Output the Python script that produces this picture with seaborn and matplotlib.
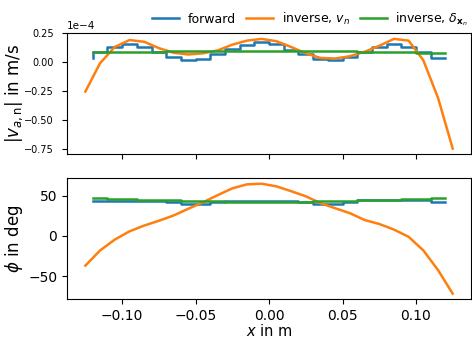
import numpy as np
import pandas as pd
import matplotlib
matplotlib.use("Agg")
import matplotlib.pyplot as plt
import seaborn as sns

# x positions
x_steps = [round(-0.12 + 0.01 * i, 3) for i in range(25)]      # step edges (forward / delta)
x_inv = [round(-0.125 + 0.01 * i, 3) for i in range(26)]       # inverse v_n samples

# top panel: |v_a,n| in m/s (values in units of 1e-4)
fwd_mag = [0.038, 0.088, 0.13, 0.153, 0.13, 0.088, 0.044, 0.02, 0.026, 0.065, 0.11, 0.15,
           0.17, 0.153, 0.10, 0.065, 0.026, 0.02, 0.044, 0.088, 0.13, 0.153, 0.13, 0.088, 0.038]
inv_mag = [-0.256, -0.01, 0.13, 0.19, 0.175, 0.12, 0.08, 0.065, 0.075, 0.10, 0.15, 0.185,
           0.20, 0.18, 0.13, 0.075, 0.035, 0.03, 0.05, 0.088, 0.14, 0.20, 0.185, 0.015,
           -0.31, -0.75]
dlt_mag = [0.085, 0.085, 0.087, 0.088, 0.089, 0.09, 0.091, 0.092, 0.093, 0.094, 0.095, 0.095,
           0.095, 0.095, 0.095, 0.094, 0.093, 0.092, 0.091, 0.09, 0.088, 0.086, 0.084, 0.08, 0.075]

# bottom panel: phi in deg
fwd_phi = [44, 44, 44, 44, 44, 44, 43, 40, 40, 43, 44, 44, 44, 44, 44,
           43, 40, 40, 43, 44.5, 44.5, 44.5, 44.5, 44.5, 42.5]
inv_phi = [-37, -18, -4.5, 5.8, 13, 19, 25.6, 34, 42, 51, 59.5, 64.5, 65.3,
           62, 56, 49.6, 41, 34.7, 28.5, 20, 15, 8, -1, -18, -42.5, -72]
dlt_phi = [47, 47, 46.5, 46, 45.5, 45, 44.5, 44, 43.5, 43.5, 43, 43, 43,
           43, 43, 43, 43.5, 43.5, 44, 44.5, 45, 45.5, 46, 46.5, 47.5]

labels = ["forward", "inverse, $v_n$", r"inverse, $\delta_{\mathbf{x}_n}$"]
colors = ["#1f77b4", "#ff7f0e", "#2ca02c"]

fig, (ax1, ax2) = plt.subplots(2, 1, figsize=(4.72, 3.38), dpi=100, sharex=True)
fig.subplots_adjust(left=0.142, right=0.998, top=0.902, bottom=0.115, hspace=0.2)

scale = 1e-4
lw = 1.8
sns.lineplot(x=x_steps, y=np.array(fwd_mag) * scale, ax=ax1, color=colors[0], label=labels[0],
             drawstyle="steps-pre", estimator=None, sort=False, linewidth=lw)
sns.lineplot(x=x_inv, y=np.array(inv_mag) * scale, ax=ax1, color=colors[1], label=labels[1],
             estimator=None, sort=False, linewidth=lw)
sns.lineplot(x=x_steps, y=np.array(dlt_mag) * scale, ax=ax1, color=colors[2], label=labels[2],
             drawstyle="steps-pre", estimator=None, sort=False, linewidth=lw)

sns.lineplot(x=x_steps, y=fwd_phi, ax=ax2, color=colors[0], legend=False,
             drawstyle="steps-pre", estimator=None, sort=False, linewidth=lw)
sns.lineplot(x=x_inv, y=inv_phi, ax=ax2, color=colors[1], legend=False,
             estimator=None, sort=False, linewidth=lw)
sns.lineplot(x=x_steps, y=dlt_phi, ax=ax2, color=colors[2], legend=False,
             drawstyle="steps-pre", estimator=None, sort=False, linewidth=lw)

ax1.set_ylabel(r"$|v_{a,\mathrm{n}}|$ in m/s", fontsize=12)
ax2.set_ylabel(r"$\phi$ in deg", fontsize=12)
ax2.set_xlabel(r"$x$ in m", fontsize=10.5, labelpad=0)
ax1.set_xlabel("")
ax1.set_yticks(np.array([0.25, 0.0, -0.25, -0.5, -0.75]) * scale)
ax1.ticklabel_format(axis="y", style="sci", scilimits=(-4, -4))
ax1.tick_params(axis="y", labelsize=7, pad=6)
ax1.yaxis.get_offset_text().set_fontsize(7.5)

ax1.yaxis.set_label_coords(-0.104, 0.5)
ax2.yaxis.set_label_coords(-0.104, 0.5)

ax1.legend(loc="lower right", bbox_to_anchor=(1.005, 1.0), ncol=3, frameon=False,
           fontsize=9, borderaxespad=0.0, columnspacing=0.8, handlelength=2.15,
           handletextpad=0.7)

fig.savefig("out.png", dpi=100)
